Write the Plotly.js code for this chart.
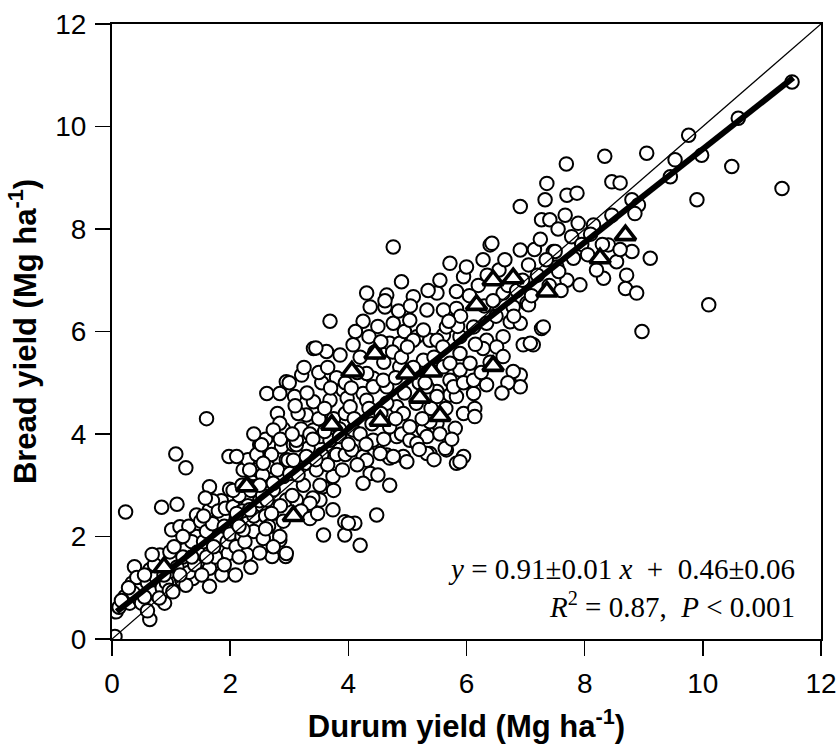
<!DOCTYPE html>
<html>
<head>
<meta charset="utf-8">
<script src="https://cdn.plot.ly/plotly-3.0.1.min.js"></script>
<style>html,body{margin:0;padding:0;background:#fff;}#chart{width:838px;height:749px;}</style>
</head>
<body>
<div id="chart"></div>
<script>
// Site-year yields (Mg ha-1): [durum, bread]
const siteYears = [
[0.05,0.05],[0.07,0.53],[0.12,0.62],[0.22,0.83],[0.23,2.48],[0.34,1.09],[0.38,1.41],[0.30,0.70],[0.47,0.76],[0.45,0.95],[0.16,0.75],[0.42,1.20],[0.50,0.70],[0.36,0.90],[0.64,0.38],[0.64,1.35],[0.81,1.64],[0.84,2.57],[0.89,0.70],[0.60,1.10],[0.70,0.90],[0.75,1.20],[0.85,1.00],[0.95,1.30],[0.55,0.82],[0.72,1.45],[0.80,0.80],[0.98,1.70],[0.60,0.55],[0.92,1.10],[0.28,1.00],[0.55,1.25],[0.68,1.65],[0.88,1.25],[0.97,0.95],
[1.03,0.92],[1.01,2.13],[1.08,3.61],[1.10,2.63],[1.15,2.19],[1.18,1.15],[1.23,1.74],[1.25,3.34],[1.37,1.18],[1.43,2.42],[1.43,2.00],[1.49,1.54],[1.10,1.40],[1.20,1.60],[1.30,1.30],[1.35,1.90],[1.05,1.80],[1.45,1.70],[1.25,1.05],[1.40,1.45],[1.15,1.25],[1.30,2.20],[1.50,2.30],[1.65,1.03],[1.65,1.38],[1.65,2.52],[1.65,2.97],[1.77,1.93],[1.86,1.25],[1.88,2.39],[1.97,1.67],[1.98,3.56],[1.99,2.92],[1.60,4.30],[1.55,1.90],[1.60,2.10],[1.70,2.25],[1.75,1.60],[1.80,2.00],[1.85,2.70],[1.90,2.20],[1.95,1.90],[1.60,1.60],[1.70,2.70],[1.80,2.50],[1.90,1.45],[1.55,2.40],[2.00,2.05],[1.20,2.00],[1.52,1.25],[1.72,1.80],[1.92,2.55],[1.35,1.60],[1.58,2.75],
[2.09,1.25],[2.05,2.58],[2.22,3.30],[2.28,1.65],[2.28,2.26],[2.39,3.23],[2.45,2.97],[2.50,3.79],[2.10,2.30],[2.15,2.80],[2.20,2.00],[2.30,2.60],[2.35,2.90],[2.40,2.40],[2.45,3.30],[2.10,1.80],[2.20,2.50],[2.30,3.50],[2.40,2.10],[2.50,2.70],[2.25,1.90],[2.35,1.40],[2.05,2.90],[2.45,3.60],[2.15,1.60],[2.56,1.96],[2.64,3.36],[2.71,1.61],[2.73,2.58],[2.73,2.91],[2.84,1.93],[2.87,3.75],[2.90,3.17],[2.94,1.61],[2.95,2.71],[2.60,2.40],[2.65,3.00],[2.70,3.60],[2.75,2.20],[2.80,3.30],[2.85,2.60],[2.90,4.10],[2.95,3.50],[2.55,2.80],[2.60,3.90],[2.80,4.40],[2.62,4.79],[2.84,4.79],[2.95,5.02],[2.55,3.20],[2.65,2.20],[2.90,2.30],[2.84,4.21],[2.73,4.08],[2.53,3.79],[2.73,3.04],[2.33,3.30],[2.11,3.56],[2.22,2.13],[2.84,2.00],[2.95,1.67],[2.50,1.68],[2.73,1.80],[2.56,3.43],[2.62,2.71],[2.33,2.52],[2.11,2.45],[2.98,3.49],[2.40,4.00],[2.20,3.00],[2.70,2.45],[2.85,3.90],[2.50,3.00],[2.60,2.15],[2.15,2.20],
[3.07,3.79],[3.32,3.72],[3.52,3.95],[3.86,3.75],[3.57,2.97],[3.52,2.71],[3.74,2.52],[3.58,2.03],[3.94,2.03],[3.94,2.29],[3.52,3.00],[3.40,2.75],[3.24,3.00],[3.29,3.43],[3.07,3.49],[3.12,3.79],[3.41,5.67],[3.63,5.61],[3.86,5.54],[3.21,5.15],[3.09,4.73],[3.41,4.63],[3.69,4.66],[3.91,4.86],[3.29,4.37],[3.69,3.88],[3.41,4.08],[3.12,3.88],[3.29,3.56],[3.46,3.30],[3.74,3.17],[3.01,3.23],[3.12,2.71],[3.35,2.65],[3.69,6.20],[3.45,5.68],[3.00,5.00],[3.15,4.40],[3.20,4.10],[3.35,4.00],[3.50,4.30],[3.60,4.50],[3.75,4.30],[3.85,4.10],[3.95,4.40],[3.55,3.60],[3.65,3.40],[3.80,3.60],[3.90,3.30],[3.45,3.50],[3.15,3.20],[3.05,4.00],[3.30,4.80],[3.55,5.00],[3.80,5.10],[3.95,5.00],[3.70,4.90],[3.25,5.30],[3.50,5.20],[3.10,4.55],[3.85,3.95],[3.60,4.05],[3.40,3.90],[3.95,3.60],[3.75,2.90],[3.20,2.50],[3.05,2.80],[3.65,5.30],[3.98,4.70],[3.35,2.35],[3.48,2.45],
[4.08,5.74],[4.06,3.69],[4.25,3.56],[4.48,3.82],[4.65,3.59],[4.37,3.23],[4.25,3.04],[4.48,2.42],[4.11,2.26],[4.00,2.26],[4.20,1.83],[4.70,5.77],[4.93,5.74],[4.70,3.53],[4.93,3.56],[4.82,3.95],[4.82,4.53],[4.65,4.92],[4.42,5.09],[4.25,4.79],[4.03,4.53],[4.08,4.08],[4.76,7.65],[4.90,6.97],[4.65,6.71],[4.62,6.48],[4.76,6.16],[4.87,5.77],[4.31,6.75],[4.37,6.48],[4.62,6.60],[4.31,5.18],[4.42,4.92],[4.59,5.05],[4.87,5.31],[4.31,4.66],[4.65,4.60],[4.93,4.40],[4.70,4.14],[4.42,3.88],[4.54,3.62],[4.31,3.49],[4.99,3.46],[4.76,3.56],[4.20,5.50],[4.15,5.20],[4.35,5.90],[4.50,6.10],[4.60,5.40],[4.80,5.10],[4.95,4.80],[4.55,4.40],[4.10,4.30],[4.20,4.00],[4.40,4.20],[4.80,4.30],[4.90,4.00],[4.60,3.90],[4.30,3.80],[4.15,3.40],[4.50,3.20],[4.70,3.00],[4.00,3.80],[4.05,4.90],[4.45,5.60],[4.85,6.40],[4.95,6.00],[4.25,6.20],[4.55,5.80],[4.75,5.60],[4.35,4.50],[4.90,5.50],[4.12,6.00],
[5.16,5.90],[5.38,5.83],[5.61,5.93],[5.66,3.69],[5.38,3.62],[5.83,3.43],[5.04,3.88],[5.27,4.08],[5.72,4.76],[5.50,4.83],[5.72,7.33],[5.95,7.07],[5.10,6.68],[5.50,6.75],[5.83,6.78],[5.33,6.42],[5.61,6.42],[5.83,6.45],[5.04,6.22],[5.27,6.03],[5.66,6.09],[5.89,5.90],[5.50,5.83],[5.10,5.83],[5.89,5.57],[5.83,4.73],[5.81,4.11],[5.64,3.72],[5.95,3.56],[5.89,3.46],[5.33,3.62],[5.33,3.95],[5.50,4.21],[5.89,5.25],[5.72,5.05],[5.61,5.31],[5.72,5.38],[5.27,5.44],[5.04,4.14],[5.16,3.82],[5.38,4.24],[5.50,4.73],[5.33,4.92],[5.78,4.92],[5.20,5.00],[5.45,5.50],[5.60,5.70],[5.85,6.10],[5.15,4.60],[5.40,4.50],[5.65,4.50],[5.95,4.40],[5.25,4.30],[5.55,4.00],[5.75,3.90],[5.10,5.30],[5.35,6.80],[5.55,7.00],[5.90,6.30],[5.05,6.50],[5.70,6.20],[5.95,5.00],[5.45,3.50],[5.20,3.70],[5.00,5.70],[5.30,5.00],
[6.00,7.26],[6.28,7.40],[6.40,7.69],[6.91,7.59],[6.43,7.72],[6.91,8.44],[6.62,6.75],[6.79,6.48],[7.02,6.55],[6.74,6.19],[6.91,6.16],[6.96,5.74],[6.62,5.90],[6.34,5.83],[6.12,6.09],[6.34,6.16],[6.91,5.15],[6.91,4.92],[6.34,4.96],[6.12,4.79],[6.14,4.50],[6.14,4.34],[6.12,5.05],[6.06,5.38],[6.28,5.67],[6.51,5.70],[6.62,5.51],[6.79,5.22],[6.30,6.50],[6.50,6.30],[6.70,6.90],[6.20,6.90],[6.45,6.60],[6.85,6.80],[6.55,7.20],[6.25,5.20],[6.40,5.40],[6.70,5.00],[6.60,4.80],[6.15,5.75],[6.80,6.30],[6.05,6.70],[6.35,7.10],[6.65,7.40],[6.95,7.00],
[7.47,7.56],[7.81,7.43],[7.53,7.26],[7.70,7.00],[7.92,6.91],[7.27,6.06],[7.13,5.74],[7.36,8.89],[7.33,8.57],[7.70,8.66],[7.87,8.70],[7.27,8.18],[7.41,8.18],[7.67,8.27],[7.89,8.11],[7.78,7.85],[7.50,7.56],[7.56,7.17],[7.30,6.09],[7.08,5.77],[7.05,6.52],[7.69,9.27],[7.20,7.10],[7.40,6.90],[7.10,6.70],[7.60,6.80],[7.35,7.40],[7.15,7.60],[7.95,7.70],[7.25,7.80],[7.55,8.00],[7.05,7.30],
[8.46,8.92],[8.80,8.57],[8.91,8.47],[8.15,8.08],[8.46,8.27],[8.40,7.69],[8.54,7.36],[8.71,7.10],[8.80,7.56],[8.32,7.04],[8.69,6.84],[8.88,6.75],[8.97,6.00],[8.34,9.42],[8.60,8.90],[8.05,7.50],[8.20,7.20],[8.60,7.60],[8.10,7.90],[8.30,7.70],[8.85,8.30],
[9.45,9.02],[9.90,8.57],[9.11,7.43],[10.10,6.52],[11.51,10.87],[10.60,10.16],[9.76,9.83],[9.05,9.48],[9.53,9.35],[9.98,9.44],[10.49,9.22],[11.34,8.79]
];

// Mean yields (triangles): [durum, bread]
const meanYields = [
[0.88,1.40],[2.28,2.98],[3.07,2.40],[3.72,4.18],[4.06,5.22],[4.45,5.57],[4.54,4.26],[4.99,5.18],[5.41,5.22],[5.21,4.71],[5.55,4.35],[6.17,6.52],[6.45,5.33],[6.45,7.00],[6.79,7.04],[7.36,6.78],[8.26,7.43],[8.69,7.88]
];

// Reference lines
const oneToOneX = [0, 12];
const oneToOneY = [0, 12];
const slope = 0.91;
const intercept = 0.46;
const fitRangeX = [0.08, 11.53];

const tickVals = [0, 2, 4, 6, 8, 10, 12];
const xTitle = 'Durum yield (Mg ha<sup>-1</sup>)';
const yTitle = 'Bread yield (Mg ha<sup>-1</sup>)';
const eqLine1 = '<i>y</i> = 0.91±0.01 <i>x</i>  +  0.46±0.06';
const eqLine2 = '<i>R</i><sup>2</sup> = 0.87,  <i>P</i> &lt; 0.001';

const fitY = fitRangeX.map(v => slope * v + intercept);

const traces = [
  {
    x: siteYears.map(p => p[0]), y: siteYears.map(p => p[1]),
    type: 'scatter', mode: 'markers', hoverinfo: 'skip',
    marker: {symbol: 'circle', size: 13.5, color: '#ffffff', line: {color: '#000000', width: 2}}
  },
  {
    x: oneToOneX, y: oneToOneY, type: 'scatter', mode: 'lines', hoverinfo: 'skip',
    line: {color: '#000000', width: 1.3}
  },
  {
    x: fitRangeX, y: fitY, type: 'scatter', mode: 'lines', hoverinfo: 'skip',
    line: {color: '#000000', width: 6}
  },
  {
    x: meanYields.map(p => p[0]), y: meanYields.map(p => p[1]),
    type: 'scatter', mode: 'markers', hoverinfo: 'skip',
    marker: {symbol: 'triangle-up', size: 18, color: '#ffffff', line: {color: '#000000', width: 3.6}}
  }
];

const titleFont = {family: 'Liberation Sans Narrow, Liberation Sans, Arial, sans-serif', size: 31, color: '#000', weight: 'bold'};
const axisCommon = {
  range: [0, 12], tickvals: tickVals, ticks: 'outside', ticklen: 15, tickwidth: 1.5,
  tickcolor: '#000', showline: true, linecolor: '#000', linewidth: 2, mirror: true,
  showgrid: false, zeroline: false,
  tickfont: {family: 'Liberation Sans Narrow, Liberation Sans, Arial, sans-serif', size: 28, color: '#000'}
};

const layout = {
  width: 838, height: 749,
  margin: {l: 112, r: 17, t: 24, b: 110},
  paper_bgcolor: '#fff', plot_bgcolor: '#fff',
  showlegend: false,
  xaxis: Object.assign({}, axisCommon, {
    ticklabelstandoff: 3,
    title: {text: xTitle, standoff: 18, font: titleFont}
  }),
  yaxis: Object.assign({}, axisCommon, {
    ticklabelstandoff: 3,
    title: {text: yTitle, standoff: 9, font: titleFont}
  }),
  annotations: [
    {xref: 'paper', yref: 'paper', x: 0.966, y: 0.114, xanchor: 'right', yanchor: 'middle', showarrow: false,
     text: eqLine1, font: {family: 'Liberation Serif, Times New Roman, serif', size: 29, color: '#000'}},
    {xref: 'paper', yref: 'paper', x: 0.966, y: 0.055, xanchor: 'right', yanchor: 'middle', showarrow: false,
     text: eqLine2, font: {family: 'Liberation Serif, Times New Roman, serif', size: 29, color: '#000'}}
  ]
};

Plotly.newPlot('chart', traces, layout, {staticPlot: true, displayModeBar: false});
</script>
</body>
</html>
